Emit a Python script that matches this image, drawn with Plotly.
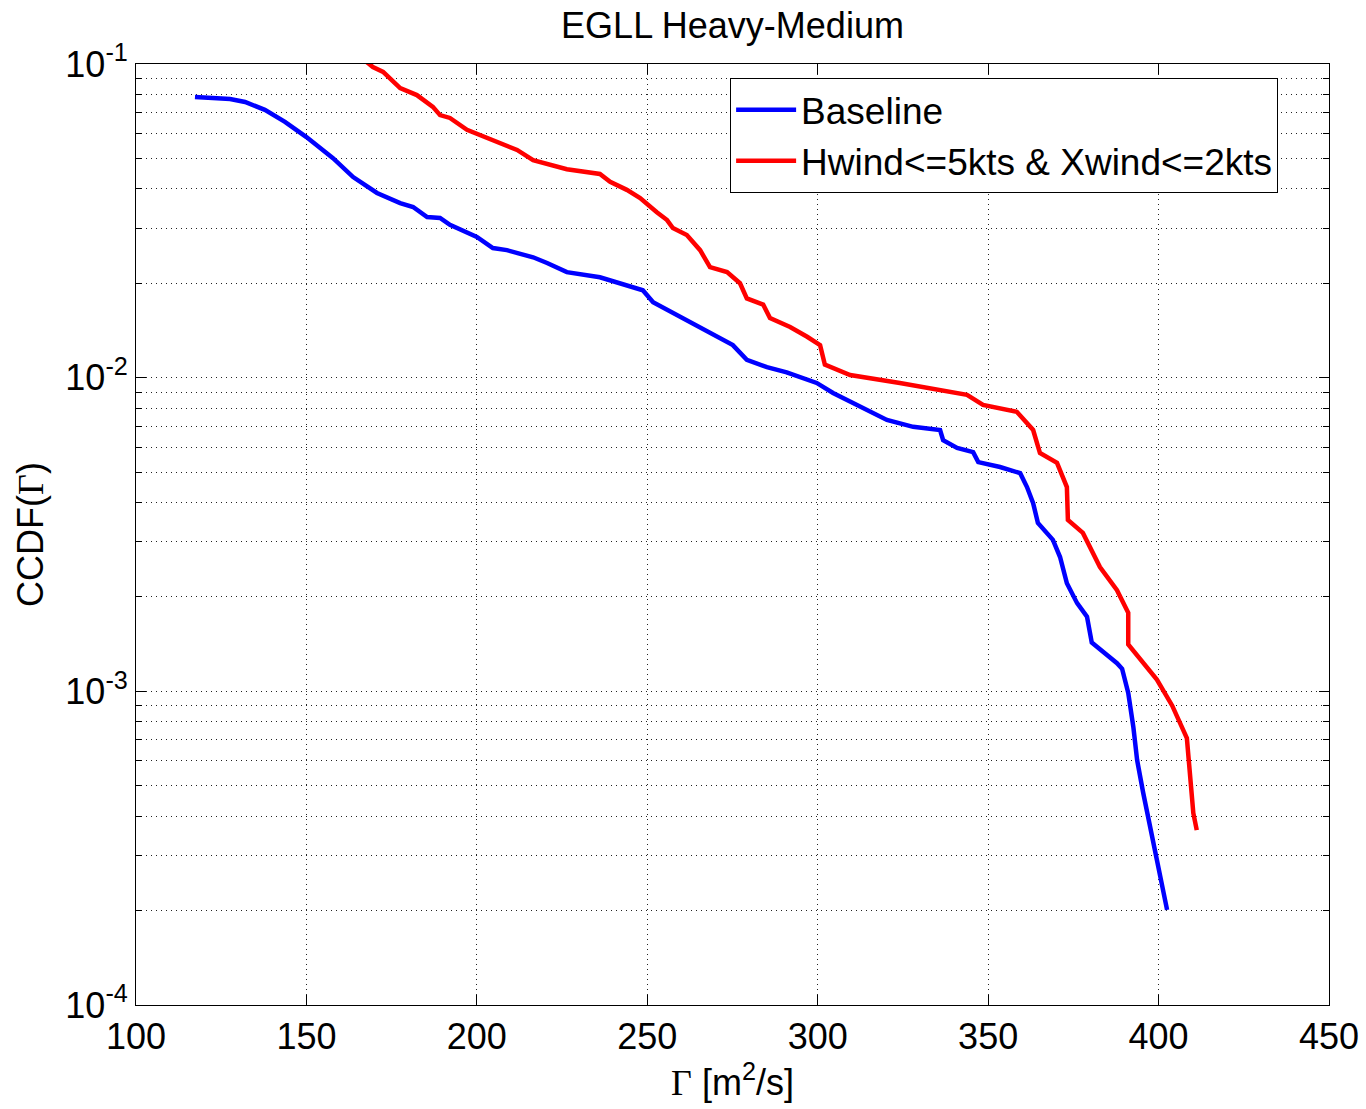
import plotly.graph_objects as go

# Baseline series
base_x = [117.3, 127.6, 132.0, 137.8, 143.7, 150.0, 157.8, 163.7, 170.7, 177.5, 181.3, 185.4, 189.2,
          192.1, 200.0, 204.7, 208.8, 216.5, 220.6, 226.4, 236.1, 245.8, 248.7, 251.7, 258.7, 265.5,
          271.3, 275.1, 279.2, 285.1, 290.9, 299.7, 304.5, 312.4, 320.3, 328.0, 335.9, 336.8, 340.9,
          345.6, 347.1, 353.5, 359.4, 361.4, 363.2, 364.6, 369.0, 371.1, 373.1, 376.1, 379.0, 380.4,
          387.8, 389.3, 391.1, 392.6, 393.7, 395.5, 397.5, 400.4, 402.5]
base_y = [0.0785, 0.0773, 0.0757, 0.0714, 0.0654, 0.0585, 0.0501, 0.0436, 0.0388, 0.0360, 0.0350,
          0.0325, 0.0323, 0.0307, 0.0281, 0.0259, 0.0255, 0.0242, 0.0232, 0.0217, 0.0209, 0.0195,
          0.0190, 0.0174, 0.0158, 0.0145, 0.0134, 0.0127, 0.0114, 0.0108, 0.0104, 0.00962, 0.00894,
          0.00807, 0.00733, 0.00697, 0.00681, 0.00632, 0.00597, 0.00579, 0.00538, 0.00519, 0.00496,
          0.00448, 0.00398, 0.00344, 0.00304, 0.00268, 0.00221, 0.00191, 0.00173, 0.00143, 0.00123,
          0.00118, 0.000988, 0.000769, 0.000604, 0.000474, 0.000370, 0.000264, 0.000201]

# Hwind<=5kts & Xwind<=2kts series
red_x = [166.0, 169.5, 172.5, 177.5, 182.4, 187.1, 189.2, 192.1, 197.1, 204.7, 211.8, 216.5, 221.5,
         226.4, 236.1, 239.1, 244.0, 247.9, 252.8, 255.8, 257.5, 261.6, 265.5, 268.4, 273.4, 277.2,
         279.2, 284.0, 286.0, 291.9, 296.9, 300.7, 302.1, 309.5, 324.1, 335.9, 343.8, 348.5, 358.4,
         363.2, 365.2, 370.2, 373.1, 373.4, 377.8, 382.8, 387.8, 391.1, 391.1, 399.5, 404.0, 408.3,
         409.2, 410.2, 411.2]
red_y = [0.1050, 0.0978, 0.0944, 0.0838, 0.0796, 0.0730, 0.0687, 0.0673, 0.0617, 0.0573, 0.0532,
         0.0494, 0.0477, 0.0462, 0.0446, 0.0421, 0.0397, 0.0374, 0.0337, 0.0318, 0.0300, 0.0285,
         0.0255, 0.0225, 0.0217, 0.0200, 0.0179, 0.0171, 0.0155, 0.0145, 0.0135, 0.0127, 0.0110,
         0.0102, 0.00962, 0.00914, 0.00882, 0.00819, 0.00778, 0.00681, 0.00575, 0.00535, 0.00448,
         0.00352, 0.00320, 0.00249, 0.00210, 0.00178, 0.00141, 0.00109, 0.00090, 0.000709, 0.000549,
         0.000409, 0.000361]

x_ticks = [100, 150, 200, 250, 300, 350, 400, 450]
y_decades = [-4, -3, -2, -1]
y_major_vals = [10.0 ** e for e in y_decades]
y_major_text = ["10<sup>%d</sup>" % e for e in y_decades]
y_minor_vals = [m * 10.0 ** e for e in y_decades[:-1] for m in range(2, 10)]

FONT = "Arial, 'Liberation Sans', sans-serif"

fig = go.Figure()
fig.add_trace(go.Scatter(x=base_x, y=base_y, mode="lines", name="Baseline",
                         line=dict(color="#0000ff", width=4.5)))
fig.add_trace(go.Scatter(x=red_x, y=red_y, mode="lines", name="Hwind<=5kts & Xwind<=2kts",
                         line=dict(color="#ff0000", width=4.5)))

fig.update_layout(
    width=1366, height=1109,
    margin=dict(l=136, r=37, t=64, b=104),
    paper_bgcolor="white", plot_bgcolor="white",
    font=dict(family=FONT, size=36, color="black"),
    title=dict(text="EGLL Heavy-Medium", xref="paper", x=0.5, xanchor="center",
               yref="container", y=0.977, yanchor="middle", font=dict(size=36)),
    legend=dict(x=0.498, y=0.985, xanchor="left", yanchor="top",
                bgcolor="white", bordercolor="black", borderwidth=1,
                font=dict(size=37), tracegroupgap=0, itemwidth=60),
    showlegend=True,
)

GRID = dict(showgrid=True, gridcolor="#222222", gridwidth=1, griddash="1px,4px")

fig.update_xaxes(range=[100, 450], tickvals=x_ticks, ticks="inside", ticklen=10,
                 tickcolor="black", showline=True, linecolor="black", linewidth=1, mirror="allticks",
                 zeroline=False, tickfont=dict(size=36), automargin=False,
                 title=dict(text="<span style='font-family:Liberation Serif'>Γ</span> [m<sup>2</sup>/s]",
                            font=dict(size=36), standoff=12),
                 **GRID)
fig.update_yaxes(type="log", range=[-4, -1], tickvals=y_major_vals, ticktext=y_major_text,
                 ticks="inside", ticklen=10, tickcolor="black",
                 showline=True, linecolor="black", linewidth=1, mirror="allticks",
                 zeroline=False, tickfont=dict(size=36), automargin=False,
                 minor=dict(tickvals=y_minor_vals, ticks="inside", ticklen=6, tickcolor="black",
                            **GRID),
                 title=dict(text="CCDF(<span style='font-family:Liberation Serif'>Γ</span>)",
                            font=dict(size=36), standoff=10),
                 **GRID)

fig.write_html("out.html")
